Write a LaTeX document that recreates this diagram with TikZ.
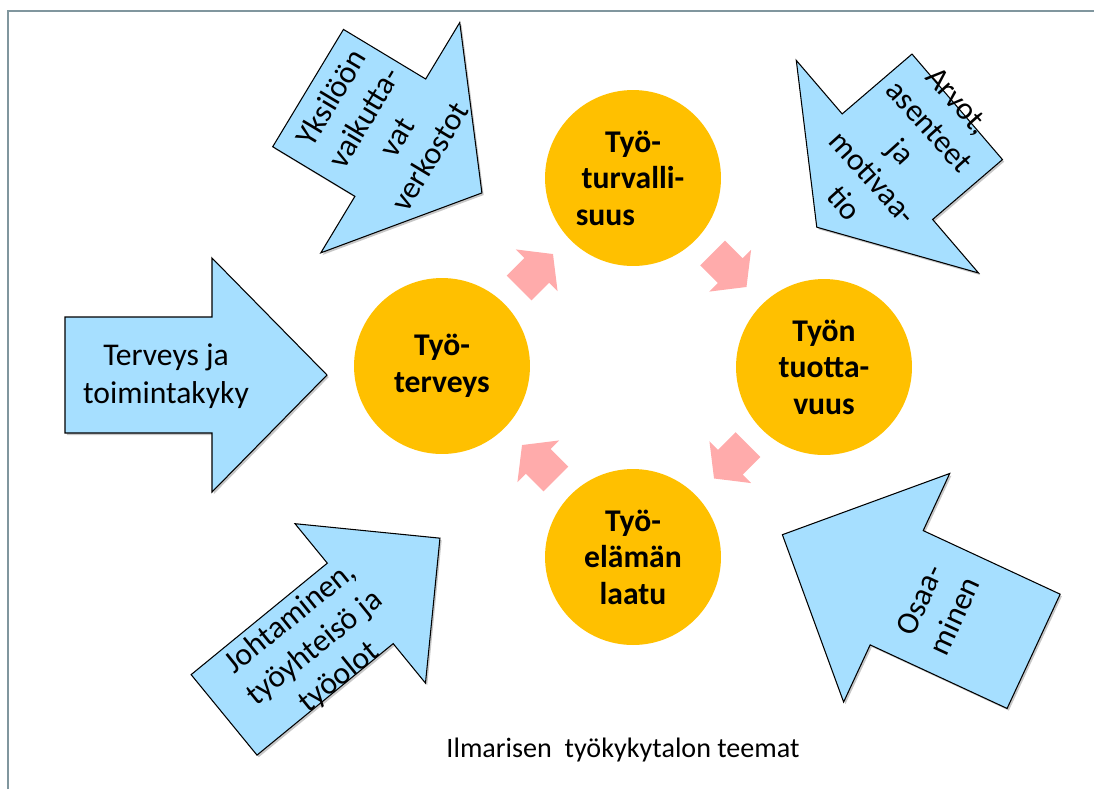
\documentclass[tikz,border=0pt]{standalone}
\usepackage{fontspec}
\setmainfont{Carlito}
\usepackage{tikz}
\usetikzlibrary{shapes,arrows}
\usetikzlibrary{positioning}

\definecolor{themeorange}{RGB}{255,192,0}
\definecolor{arrblue}{RGB}{166,223,255}
\definecolor{arrpink}{RGB}{255,171,171}
\definecolor{framegray}{RGB}{128,150,158}

% block arrow: centre, angle, length, shaft width, head length, head width, style
\newcommand{\blockarr}[7]{%
	\begin{scope}[shift={#1},rotate=#2]
	\draw[#7] (-#3/2,-#4/2) -- (#3/2-#5,-#4/2) -- (#3/2-#5,-#6/2) -- (#3/2,0)
		-- (#3/2-#5,#6/2) -- (#3/2-#5,#4/2) -- (-#3/2,#4/2) -- cycle;
	\end{scope}}

\tikzset{
	theme/.style={circle,fill=themeorange,minimum size=3.52cm,inner sep=0pt,align=center,
		font=\bfseries\fontsize{18}{20.8}\selectfont},
	bluearr/.style={fill=arrblue,draw=black,line width=0.6pt,line join=miter,
		preaction={fill=black,opacity=0.22,draw=none,transform canvas={shift={(1pt,-1.2pt)}}}},
	pinkarr/.style={fill=arrpink,draw=none},
	arrtext/.style={align=center,inner sep=0pt,font=\fontsize{18}{21.8}\selectfont}
}

\begin{document}
\begin{tikzpicture}[x=0.02cm,y=-0.02cm]
			\useasboundingbox (0,0) rectangle (1094,789);
			% frame
			\draw[framegray,line width=1.1pt] (8,789) -- (8,11) -- (1094,11);
			% outer arrows
			\blockarr{(196,375)}{0}{262}{116}{115}{234}{bluearr}
			\blockarr{(395,140.5)}{-31.1}{203}{137}{107}{269}{bluearr}
			\blockarr{(887,167)}{-139.4}{185}{139}{93}{280}{bluearr}
			\blockarr{(332,626.5)}{39.3}{279}{104}{103}{206}{bluearr}
			\blockarr{(908,593)}{155.1}{277}{126}{126}{252}{bluearr}
			\node[arrtext] (terveys) at (166,376) {Terveys ja\\toimintakyky};
			\node[arrtext,rotate=59] (verkostot) at (380,127) {Yksilöön\\vaikutta-\\vat\\verkostot};
			\node[arrtext,rotate=-48] (arvot) at (901,152) {Arvot,\\asenteet\\ja\\motivaa-\\tio};
			\node[arrtext,rotate=39] (johtaminen) at (315,648) {Johtaminen,\\työyhteisö ja\\työolot};
			\node[arrtext,rotate=65] (osaaminen) at (937,608) {Osaa-\\minen};
			% themes
			\node[theme] (tyoterveys) at (442,366) {Työ-\\terveys};
			\node[theme] (turvallisuus) at (633,178) {Työ-\\turvalli-\\suus\hspace*{1.75em}};
			\node[theme] (tuottavuus) at (824,367) {Työn\\tuotta-\\vuus};
			\node[theme] (laatu) at (633,557) {Työ-\\elämän\\laatu};
			% small arrows between themes
			\blockarr{(536,271)}{45}{48}{35}{23}{59}{pinkarr}
			\blockarr{(729.5,270)}{-45}{48}{35}{23}{59}{pinkarr}
			\blockarr{(731,461.5)}{-135}{48}{35}{23}{59}{pinkarr}
			\blockarr{(539,462)}{135}{48}{35}{23}{59}{pinkarr}
			\node[font=\fontsize{16}{19}\selectfont] (otsikko) at (623,750) {Ilmarisen~ työkykytalon teemat};
\end{tikzpicture}
\end{document}
